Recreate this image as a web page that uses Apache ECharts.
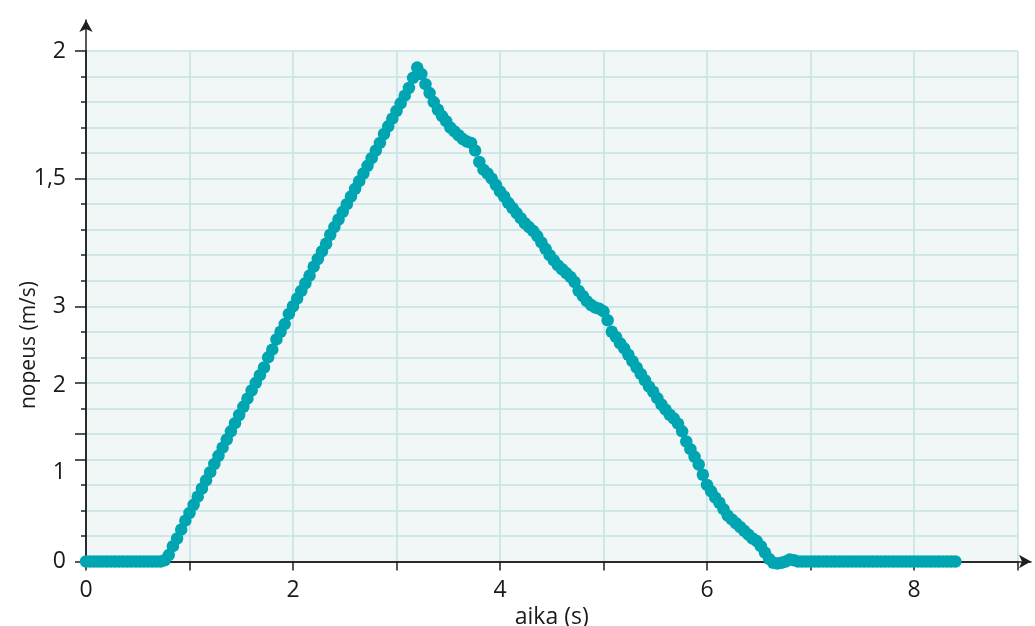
<!DOCTYPE html>
<html>
<head>
<meta charset="utf-8">
<script src="https://cdn.jsdelivr.net/npm/echarts@6/dist/echarts.min.js"></script>
<style>
html,body{margin:0;padding:0;background:#ffffff;}
#chart{width:1035px;height:626px;}
</style>
</head>
<body>
<div id="chart"></div>
<script>
// time (s)
var timeValues = [
  0,0.04,0.08,0.12,0.16,0.2,0.24,0.28,0.32,0.36,0.4,0.44,0.48,0.52,0.56,0.6,0.64,0.68,0.72,0.76,0.8,0.84,0.88,0.92,0.96,
  1,1.04,1.08,1.12,1.16,1.2,1.24,1.28,1.32,1.36,1.4,1.44,1.48,1.52,1.56,1.6,1.64,1.68,1.72,1.76,1.8,1.84,1.88,1.92,1.96,
  2,2.04,2.08,2.12,2.16,2.2,2.24,2.28,2.32,2.36,2.4,2.44,2.48,2.52,2.56,2.6,2.64,2.68,2.72,2.76,2.8,2.84,2.88,2.92,2.96,
  3,3.04,3.08,3.12,3.16,3.2,3.24,3.28,3.32,3.36,3.4,3.44,3.48,3.52,3.56,3.6,3.64,3.68,3.72,3.76,3.8,3.84,3.88,3.92,3.96,
  4,4.04,4.08,4.12,4.16,4.2,4.24,4.28,4.32,4.36,4.4,4.44,4.48,4.52,4.56,4.6,4.64,4.68,4.72,4.76,4.8,4.84,4.88,4.92,4.96,
  5,5.04,5.08,5.12,5.16,5.2,5.24,5.28,5.32,5.36,5.4,5.44,5.48,5.52,5.56,5.6,5.64,5.68,5.72,5.76,5.8,5.84,5.88,5.92,5.96,
  6,6.04,6.08,6.12,6.16,6.2,6.24,6.28,6.32,6.36,6.4,6.44,6.48,6.52,6.56,6.6,6.64,6.68,6.72,6.76,6.8,6.84,6.88,6.92,6.96,
  7,7.04,7.08,7.12,7.16,7.2,7.24,7.28,7.32,7.36,7.4,7.44,7.48,7.52,7.56,7.6,7.64,7.68,7.72,7.76,7.8,7.84,7.88,7.92,7.96,
  8,8.04,8.08,8.12,8.16,8.2,8.24,8.28,8.32,8.36,8.4
];
// speed (m/s)
var speedValues = [
  0,0,0,0,0,0,0,0,0,0,0,0,0,0,0,0,0,0,0,0.005,0.025,0.06,0.09,0.125,0.16,
  0.19,0.222,0.254,0.286,0.318,0.35,0.382,0.414,0.446,0.478,0.51,0.542,0.574,0.606,0.638,0.67,0.70,0.73,0.76,0.80,0.83,0.87,0.90,0.93,0.97,
  1.00,1.03,1.06,1.09,1.12,1.155,1.185,1.215,1.245,1.28,1.31,1.34,1.37,1.40,1.43,1.46,1.49,1.52,1.55,1.58,1.61,1.64,1.675,1.705,1.735,
  1.765,1.795,1.825,1.855,1.895,1.935,1.91,1.87,1.835,1.80,1.77,1.745,1.725,1.70,1.685,1.67,1.655,1.645,1.64,1.61,1.565,1.535,1.52,1.50,1.475,
  1.45,1.43,1.405,1.385,1.365,1.345,1.325,1.31,1.295,1.275,1.25,1.225,1.20,1.18,1.16,1.145,1.13,1.115,1.095,1.06,1.04,1.02,1.005,0.995,0.99,
  0.98,0.945,0.90,0.88,0.855,0.835,0.81,0.785,0.76,0.735,0.71,0.685,0.665,0.64,0.615,0.595,0.575,0.56,0.54,0.51,0.47,0.44,0.41,0.38,0.34,
  0.30,0.275,0.25,0.23,0.205,0.18,0.165,0.15,0.135,0.12,0.105,0.09,0.08,0.06,0.035,0.01,-0.005,-0.008,-0.005,0,0.008,0.005,0,0,0,
  0,0,0,0,0,0,0,0,0,0,0,0,0,0,0,0,0,0,0,0,0,0,0,0,0,
  0,0,0,0,0,0,0,0,0,0,0
];
// axis texts
var xAxisTitle = 'aika (s)';
var yAxisTitle = 'nopeus (m/s)';
var xTickLabelValues = [0, 2, 4, 6, 8];
var yTickLabelValues = [0, 0.35, 0.69, 1, 1.5, 2];
var yTickLabels = ['0', '1', '2', '3', '1,5', '2'];
var yMajorTickValues = [0, 0.4, 0.5, 0.7, 1, 1.5, 2];

var points = timeValues.map(function (t, i) { return [t, speedValues[i]]; });

var FONT = '"Open Sans", "Noto Sans", sans-serif';
var AXIS_COLOR = '#1f1f1f';
var GRID_LINE = '#c3e2e4';
var DOT = '#00a5b2';

var chart = echarts.init(document.getElementById('chart'), null, {renderer: 'canvas'});
chart.setOption({
  animation: false,
  backgroundColor: '#ffffff',
  grid: [
    {left: 86, top: 51, width: 931.5, height: 510.5, show: true, backgroundColor: '#f1f7f7', borderWidth: 0, containLabel: false, outerBoundsMode: 'none'},
    {left: 86, top: 20, right: 4, bottom: 64.5, show: false, containLabel: false, outerBoundsMode: 'none'}
  ],
  xAxis: [
    {
      type: 'value', gridIndex: 0, position: 'bottom', min: 0, max: 9, interval: 1,
      axisLine: {show: true, onZero: false, lineStyle: {color: AXIS_COLOR, width: 1.5}},
      axisTick: {show: true, length: 9, lineStyle: {color: AXIS_COLOR, width: 1.5}},
      axisLabel: {
        show: true, margin: 17, color: '#1a1a1a', fontSize: 23, fontFamily: FONT,
        customValues: xTickLabelValues,
        formatter: function (v) { return String(v); }
      },
      splitLine: {show: true, lineStyle: {color: GRID_LINE, width: 1.5}},
      name: xAxisTitle, nameLocation: 'middle', nameGap: 30,
      nameTextStyle: {color: '#1a1a1a', fontSize: 23, fontFamily: FONT}
    },
    {
      type: 'value', gridIndex: 1, position: 'bottom', min: 0, max: 1,
      axisLine: {show: true, onZero: false, symbol: ['none', 'arrow'], symbolSize: [10, 12], lineStyle: {color: AXIS_COLOR, width: 1.5}},
      axisTick: {show: false}, axisLabel: {show: false}, splitLine: {show: false}
    }
  ],
  yAxis: [
    {
      type: 'value', gridIndex: 0, position: 'left', min: 0, max: 2, interval: 0.1,
      axisLine: {show: true, onZero: false, lineStyle: {color: AXIS_COLOR, width: 1.5}},
      axisTick: {show: true, length: 5, lineStyle: {color: AXIS_COLOR, width: 1.5}},
      axisLabel: {show: false},
      splitLine: {show: true, lineStyle: {color: GRID_LINE, width: 1.5}}
    },
    {
      type: 'value', gridIndex: 0, position: 'left', offset: 0, min: 0, max: 2,
      axisLine: {show: false},
      axisTick: {show: true, length: 11, customValues: yMajorTickValues, lineStyle: {color: AXIS_COLOR, width: 1.5}},
      axisLabel: {
        show: true, margin: 20, color: '#1a1a1a', fontSize: 23, fontFamily: FONT,
        customValues: yTickLabelValues,
        formatter: function (v, i) {
          var k = yTickLabelValues.indexOf(v);
          return k >= 0 ? yTickLabels[k] : '';
        }
      },
      splitLine: {show: false}
    },
    {
      type: 'value', gridIndex: 1, position: 'left', min: 0, max: 1,
      axisLine: {show: true, onZero: false, symbol: ['none', 'arrow'], symbolSize: [10, 12], lineStyle: {color: AXIS_COLOR, width: 1.5}},
      axisTick: {show: false}, axisLabel: {show: false}, splitLine: {show: false}
    }
  ],
  graphic: [
    {
      type: 'text', x: 29, y: 345, rotation: Math.PI / 2, z: 10,
      style: {text: yAxisTitle, fill: '#1a1a1a', font: '21px ' + FONT, align: 'center', verticalAlign: 'middle'}
    }
  ],
  series: [
    {
      type: 'scatter', xAxisIndex: 0, yAxisIndex: 0,
      data: points, symbol: 'circle', symbolSize: 12.5, clip: false,
      itemStyle: {color: DOT, opacity: 1},
      z: 5
    }
  ]
});
</script>
</body>
</html>
